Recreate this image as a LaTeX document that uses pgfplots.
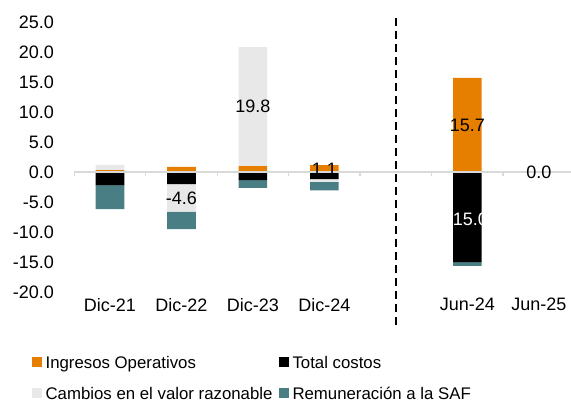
\documentclass[border=0pt]{standalone}
\usepackage{pgfplots}
\pgfplotsset{compat=1.18}
\usepackage{fontspec}
\setmainfont{Liberation Sans}
\definecolor{cOrange}{RGB}{230,126,0}
\definecolor{cTeal}{RGB}{74,126,133}
\definecolor{cGray}{RGB}{232,232,232}
\definecolor{cLine}{RGB}{217,217,217}
\pgfplotsset{
  sqlegend/.style={legend image code/.code={\path[##1,draw=none] (0pt,-3.75pt) rectangle (7.5pt,3.75pt);}},
  geom/.style={at={(0pt,0pt)}, anchor=south west, width=372.56pt, height=202.5pt, scale only axis,
    xmin=-0.5, xmax=6.45, ymin=-20, ymax=25, enlarge x limits=false, enlarge y limits=false, clip=false},
}
\begin{document}
\begin{tikzpicture}
\path[use as bounding box] (-55.7pt,-84.75pt) rectangle (372.56pt,219pt);
\begin{axis}[geom,
  ybar stacked, bar width=0.4,
  xtick={0,1,2,3,5,6}, xticklabels={Dic-21,Dic-22,Dic-23,Dic-24,Jun-24,Jun-25},
  ytick={-20,-15,...,25},
  yticklabel style={xshift=-11.8pt, /pgf/number format/fixed, /pgf/number format/fixed zerofill,
    /pgf/number format/precision=1, /pgf/number format/assume math mode=true},
  xticklabel style={yshift=-1pt},
  axis line style={draw=none}, major tick length=0pt,
  tick label style={font=\fontsize{13.5}{16}\selectfont},
]
\addplot[fill=cOrange, draw=none] coordinates {(0,0.3) (1,0.85) (2,1.0) (3,1.15) (4,0) (5,15.7) (6,0)};
\addplot[fill=black, draw=none] coordinates {(0,-2.2) (1,-2.0) (2,-1.35) (3,-1.2) (4,0) (5,-15.0) (6,0)};
\addplot[fill=cGray, draw=none] coordinates {(0,0.9) (1,-4.6) (2,19.8) (3,-0.45) (4,0) (5,0) (6,0)};
\addplot[fill=cTeal, draw=none] coordinates {(0,-4.0) (1,-2.9) (2,-1.3) (3,-1.4) (4,0) (5,-0.65) (6,-0.15)};
\end{axis}
\begin{axis}[geom, hide axis,
  legend columns=2, legend cell align=left,
  legend style={at={(axis description cs:0,0)}, anchor=north west, xshift=-31.7pt, yshift=-48pt,
    draw=none, fill=none, inner sep=0pt, font=\fontsize{12.6}{15}\selectfont, row sep=14.25pt,
    nodes={inner sep=0pt, text height=9pt, text depth=0pt},
    /tikz/every odd column/.append style={column sep=2.5pt},
    /tikz/every even column/.append style={column sep=5pt}},
]
\addlegendimage{fill=cOrange, draw=none, sqlegend}
\addlegendentry{Ingresos Operativos}
\addlegendimage{fill=black, draw=none, sqlegend}
\addlegendentry{Total costos}
\addlegendimage{fill=cGray, draw=none, sqlegend}
\addlegendentry{Cambios en el valor razonable}
\addlegendimage{fill=cTeal, draw=none, sqlegend}
\addlegendentry{Remuneración a la SAF}
\addplot[cLine, line width=1pt, forget plot] coordinates {(-0.5,0) (6.45,0)};
\addplot[cLine, line width=1pt, ycomb, mark=none, forget plot] coordinates {(-0.5,-0.6) (0.5,-0.6) (1.5,-0.6) (2.5,-0.6) (3.5,-0.6) (4.5,-0.6) (5.5,-0.6)};
\addplot[only marks, mark=none, forget plot, nodes near coords, point meta=explicit symbolic,
  every node near coord/.style={font=\fontsize{13.5}{16}\selectfont, text=black, anchor=center}]
  coordinates {(2,10.9)[19.8] (1,-4.45)[-4.6] (3,0.4)[1.1] (5,7.8)[15.7] (6,-0.1)[0.0]};
\addplot[only marks, mark=none, forget plot, nodes near coords, point meta=explicit symbolic,
  every node near coord/.style={font=\fontsize{13.5}{16}\selectfont, text=white, anchor=center}]
  coordinates {(5,-7.9)[-15.0]};
\addplot[black, line width=2pt, dash pattern=on 6pt off 3.75pt, forget plot] coordinates {(4,25.6) (4,-26.4)};
\end{axis}
\end{tikzpicture}
\end{document}
